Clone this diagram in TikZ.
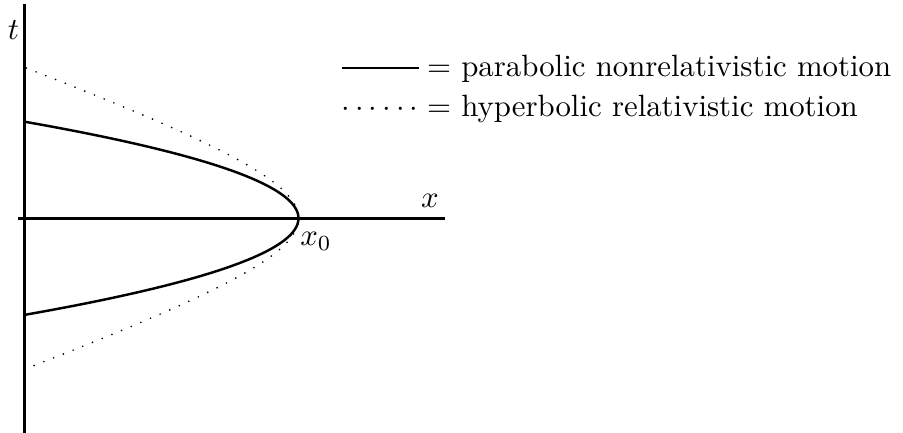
\documentclass[tikz,border=0pt]{standalone}
\usepackage{amsmath, amssymb}
\usepackage{tikz}

\begin{document}
\begin{tikzpicture}[x=0.3247pt,y=0.3247pt,
  axisline/.style={thick},
  orbit/.style={thick,domain=-96.6:96.6,samples=80},
  relorbit/.style={line width=0.6pt,dash pattern=on 0pt off 3.4pt,line cap=round,domain=-151:151,samples=120}]
\useasboundingbox (-24.5,-214.7) rectangle (878.5,218.3);
\coordinate (O) at (0,0);
\coordinate (ttop) at (0,214.3);
\coordinate (tbot) at (0,-214.7);
\coordinate (xleft) at (-6.5,0);
\coordinate (xright) at (420.5,0);
\draw[axisline] (tbot) -- (ttop);
\draw[axisline] (xleft) -- (xright);
\draw[orbit] plot ({274*(1-(\x/96.6)*(\x/96.6))},{\x});
\draw[relorbit] plot ({274-199*(sqrt(1+(\x/70)*(\x/70))-1)},{\x});
\node (tlab) at (-11,188.3) {$t$};
\node (xlab) at (405.5,17.3) {$x$};
\node[anchor=base] (xzero) at (291.5,-27.7) {$x_0$};
\node[anchor=base west,inner sep=0pt] (leg1) at (316.5,141.9) {$\rule[2.5pt]{25pt}{0.4pt} =$ parabolic nonrelativistic motion};
\node[anchor=base west,inner sep=0pt] (leg2) at (316.5,102.1) {$\cdots\cdots =$ hyperbolic relativistic motion};
\end{tikzpicture}
\end{document}
